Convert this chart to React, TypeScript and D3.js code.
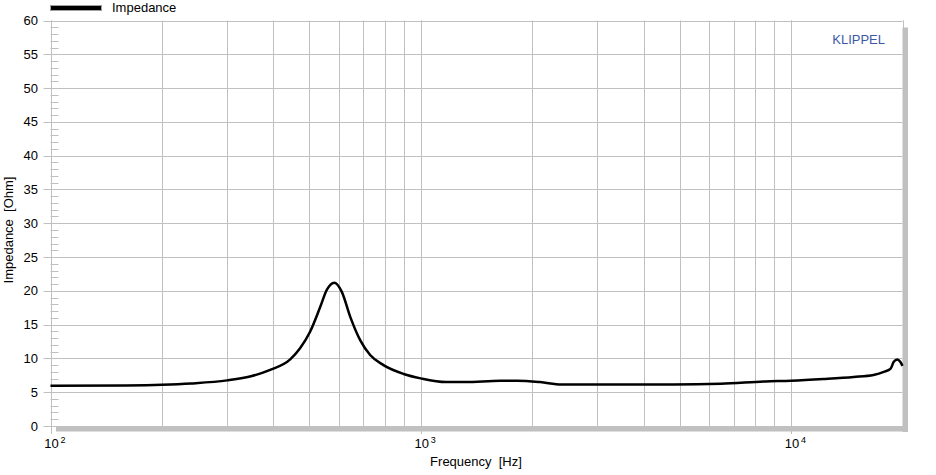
import React from 'react';
import * as d3 from 'd3';

// impedance curve
const freqs = [100, 160, 200, 240, 300, 350, 392, 444, 472, 502, 535, 557, 584, 612, 645, 686, 730, 793, 899, 1000, 1170, 1318, 1640, 1820, 2100, 2400, 4800, 6460, 8530, 10000, 12250, 14760, 16700, 17800, 18580, 18940, 19370, 19720, 20000];
const impedance = [5.95, 6.0, 6.1, 6.3, 6.75, 7.4, 8.3, 9.85, 11.5, 13.9, 17.6, 20.1, 21.2, 19.85, 16.15, 12.7, 10.5, 9.0, 7.7, 7.05, 6.5, 6.5, 6.7, 6.7, 6.5, 6.15, 6.15, 6.25, 6.6, 6.7, 6.95, 7.25, 7.55, 8.0, 8.5, 9.5, 9.85, 9.5, 8.9];

const yTicks = [0, 5, 10, 15, 20, 25, 30, 35, 40, 45, 50, 55, 60];
const decades = [100, 1000, 10000];
const decadeExp = ['2', '3', '4'];

const W = 936;
const H = 475;
const FONT = '"Liberation Sans", Arial, sans-serif';
const GRID = '#c0c0c0';

const App: React.FC = () => {
  const x = d3.scaleLog().domain([100, 20000]).range([50.5, 902.5]);
  const y = d3.scaleLinear().domain([0, 60]).range([426, 20.5]);

  // vertical grid at 1..9 per decade
  const gridF: number[] = [];
  for (let d = 100; d <= 10000; d *= 10) {
    for (let k = 1; k <= 9; k++) {
      const f = d * k;
      if (f <= 20000) gridF.push(f);
    }
  }
  gridF.push(20000);

  const minorY: number[] = [];
  for (let v = 0; v <= 60; v++) if (v % 5 !== 0) minorY.push(v);

  const line = d3
    .line<number>()
    .x((_, i) => x(freqs[i]))
    .y(d => y(d))
    .curve(d3.curveMonotoneX);

  const x0 = x(100);
  const x1 = x(20000);
  const yTop = y(60);
  const yBot = y(0);

  return (
    <svg width={W} height={H} style={{ position: 'absolute', left: 0, top: 0 }} fontFamily={FONT}>
      <rect width={W} height={H} fill="#fff" />

      {/* shadow */}
      <rect x={x1} y={yTop + 7} width={5.5} height={yBot - yTop - 1} fill={GRID} />
      <rect x={x0 + 5.5} y={yBot} width={x1 - x0} height={5.5} fill={GRID} />

      {/* horizontal grid */}
      {yTicks.map(v => (
        <line key={'h' + v} x1={x0 - 7} x2={x1} y1={Math.round(y(v)) + 0.5} y2={Math.round(y(v)) + 0.5} stroke={GRID} />
      ))}
      {/* vertical grid */}
      {gridF.map(f => (
        <line key={'v' + f} x1={Math.round(x(f)) + 0.5} x2={Math.round(x(f)) + 0.5} y1={yTop} y2={yBot} stroke={GRID} />
      ))}
      {decades.map(f => (
        <line key={'d' + f} x1={Math.round(x(f)) + 0.5} x2={Math.round(x(f)) + 0.5} y1={yTop} y2={yBot + 8} stroke={GRID} />
      ))}
      {/* minor y ticks */}
      {minorY.map(v => (
        <line key={'m' + v} x1={x0} x2={x0 + 8} y1={Math.round(y(v)) + 0.5} y2={Math.round(y(v)) + 0.5} stroke={GRID} />
      ))}

      {/* y tick labels */}
      {yTicks.map(v => (
        <text key={'t' + v} x={38} y={y(v)} dy="0.35em" textAnchor="end" fontSize={13} fill="#000">
          {v}
        </text>
      ))}

      {/* x decade labels */}
      {decades.map((f, i) => (
        <g key={'x' + f}>
          <text x={x(f) + 1} y={448} textAnchor="middle" fontSize={13} fill="#000">
            10
          </text>
          <text x={x(f) + 10} y={443} fontSize={9} fill="#000">
            {decadeExp[i]}
          </text>
        </g>
      ))}

      <text x={476} y={466} textAnchor="middle" fontSize={13} fill="#000">
        Frequency&#160;&#160;[Hz]
      </text>
      <text transform={`translate(13,230) rotate(-90)`} textAnchor="middle" fontSize={13} fill="#000">
        Impedance&#160;&#160;[Ohm]
      </text>

      <text x={885} y={44} textAnchor="end" fontSize={13} fill="#3c5aa8">
        KLIPPEL
      </text>

      {/* legend */}
      <rect x={50.5} y={5.5} width={51} height={5} fill="#000" stroke="#a0a0a0" strokeWidth={1} />
      <text x={112} y={12} fontSize={13} fill="#000">
        Impedance
      </text>

      {/* curve */}
      <path d={line(impedance) || ''} fill="none" stroke="#000" strokeWidth={2.5} strokeLinejoin="round" />
    </svg>
  );
};

export default App;
